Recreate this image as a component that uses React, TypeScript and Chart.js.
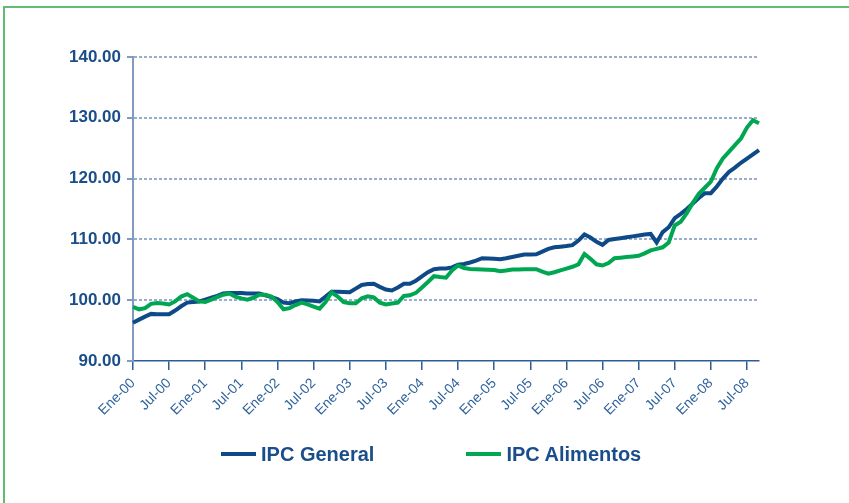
import React, { useEffect, useRef } from "react";
import { Chart, registerables } from "chart.js";

Chart.register(...registerables);

// ---- Data ----
const MONTHS = ["Ene", "Feb", "Mar", "Abr", "May", "Jun", "Jul", "Ago", "Sep", "Oct", "Nov", "Dic"];
const YEARS = ["00", "01", "02", "03", "04", "05", "06", "07", "08"];
const LAST_YEAR_MONTHS = 9; // 2008 data runs Ene..Sep

const labels: string[] = [];
YEARS.forEach((yy, yi) => {
  const n = yi === YEARS.length - 1 ? LAST_YEAR_MONTHS : 12;
  for (let m = 0; m < n; m++) labels.push(`${MONTHS[m]}-${yy}`);
});

const SERIES_NAMES = ["IPC General", "IPC Alimentos"];
const SERIES_COLORS = ["#0e4a87", "#00a651"];

const ipcGeneral = [
  96.3, 96.8, 97.3, 97.75, 97.7, 97.7, 97.7, 98.3, 99.0, 99.6, 99.7, 99.8,
  100.1, 100.4, 100.7, 101.1, 101.2, 101.2, 101.2, 101.1, 101.1, 101.1, 100.8, 100.5,
  100.2, 99.6, 99.5, 99.8, 100.0, 99.95, 99.9, 99.8, 100.6, 101.4, 101.4, 101.35,
  101.3, 101.9, 102.5, 102.65, 102.7, 102.2, 101.75, 101.6, 102.1, 102.7, 102.7, 103.2,
  103.9, 104.6, 105.1, 105.2, 105.2, 105.4, 105.85, 105.95, 106.2, 106.5, 106.9, 106.85,
  106.8, 106.75, 106.9, 107.1, 107.3, 107.5, 107.5, 107.55, 108.0, 108.45, 108.7, 108.8,
  108.9, 109.05, 109.8, 110.8, 110.3, 109.6, 109.1, 109.9, 110.05, 110.2, 110.35, 110.5,
  110.65, 110.8, 110.9, 109.5, 111.2, 112.0, 113.5, 114.2, 115.0, 115.9, 116.8, 117.6,
  117.6, 118.7, 120.0, 121.1, 121.8, 122.6, 123.3, 124.0, 124.7,
];

const ipcAlimentos = [
  98.9, 98.5, 98.7, 99.4, 99.55, 99.45, 99.3, 99.8, 100.6, 101.0, 100.4, 99.8,
  99.7, 100.1, 100.5, 100.9, 101.1, 100.6, 100.3, 100.1, 100.4, 100.9, 100.9, 100.6,
  99.7, 98.5, 98.7, 99.2, 99.6, 99.3, 98.95, 98.6, 99.7, 101.3, 100.6, 99.7,
  99.5, 99.5, 100.3, 100.65, 100.45, 99.6, 99.3, 99.45, 99.6, 100.7, 100.8, 101.2,
  102.1, 103.0, 103.95, 103.8, 103.7, 104.9, 105.7, 105.3, 105.15, 105.1, 105.05, 105.0,
  104.95, 104.75, 104.9, 105.05, 105.05, 105.1, 105.1, 105.1, 104.7, 104.35, 104.6, 104.9,
  105.2, 105.5, 105.9, 107.6, 106.8, 105.9, 105.7, 106.1, 106.9, 107.0, 107.1, 107.2,
  107.3, 107.7, 108.2, 108.45, 108.7, 109.5, 112.3, 112.9, 114.3, 116.0, 117.5, 118.5,
  119.5, 121.7, 123.3, 124.4, 125.5, 126.6, 128.4, 129.6, 129.1,
];

const SERIES_DATA = [ipcGeneral, ipcAlimentos];

const Y_MIN = 90;
const Y_MAX = 140;
const Y_STEP = 10;
const X_LABEL_EVERY = 6;

const FONT = "'Liberation Sans', Arial, Helvetica, sans-serif";
const TEXT_BLUE = "#1a4e8a";

export default function App() {
  const canvasRef = useRef<HTMLCanvasElement | null>(null);

  useEffect(() => {
    if (!canvasRef.current) return;
    const chart = new Chart(canvasRef.current, {
      type: "line",
      data: {
        labels,
        datasets: SERIES_NAMES.map((name, i) => ({
          label: name,
          data: SERIES_DATA[i],
          borderColor: SERIES_COLORS[i],
          backgroundColor: SERIES_COLORS[i],
          borderWidth: 4,
          pointRadius: 0,
          tension: 0,
          fill: false,
          order: i === 1 ? 0 : 1,
        })),
      },
      options: {
        responsive: false,
        animation: false,
        events: [],
        layout: { padding: { top: 57, right: 90, left: 0, bottom: 0 } },
        plugins: {
          legend: { display: false },
          tooltip: { enabled: false },
        },
        scales: {
          x: {
            type: "category",
            offset: false,
            border: { display: true, color: "#2b5c93", width: 1.5 },
            grid: {
              display: true,
              drawOnChartArea: false,
              drawTicks: true,
              tickLength: 9,
              lineWidth: 1.5,
              color: (ctx: any) => (ctx.index % X_LABEL_EVERY === 0 ? "#2b5c93" : "rgba(0,0,0,0)"),
              tickColor: (ctx: any) => (ctx.index % X_LABEL_EVERY === 0 ? "#2b5c93" : "rgba(0,0,0,0)"),
            },
            ticks: {
              autoSkip: false,
              maxRotation: 45,
              minRotation: 45,
              padding: 5,
              color: "#2f639c",
              font: { family: FONT, size: 14 },
              callback: (_v: any, i: number) => (i % X_LABEL_EVERY === 0 ? labels[i] : ""),
            },
            afterFit: (s: any) => {
              s.height = 142;
            },
          },
          y: {
            min: Y_MIN,
            max: Y_MAX,
            border: { display: true, color: "#7f9cc0", width: 2, dash: [3, 2] },
            grid: {
              drawOnChartArea: true,
              drawTicks: true,
              tickLength: 6,
              lineWidth: 2,
              color: (ctx: any) => (ctx.tick && ctx.tick.value === Y_MIN ? "rgba(0,0,0,0)" : "#97afcc"),
              tickColor: "#7f9cc0",
              tickBorderDash: [],
            },
            ticks: {
              stepSize: Y_STEP,
              padding: 6,
              color: TEXT_BLUE,
              font: { family: FONT, size: 17, weight: "bold" },
              callback: (v: any) => Number(v).toFixed(2),
            },
            afterFit: (s: any) => {
              s.width = 133;
            },
          },
        },
      } as any,
    });
    return () => chart.destroy();
  }, []);

  return (
    <div
      style={{
        position: "fixed",
        left: 0,
        top: 0,
        width: 849,
        height: 503,
        background: "#ffffff",
        overflow: "hidden",
      }}
    >
      <div
        style={{
          position: "absolute",
          left: 3,
          top: 6,
          width: 880,
          height: 540,
          border: "2px solid #62bd70",
          boxSizing: "border-box",
        }}
      />
      <canvas
        ref={canvasRef}
        width={849}
        height={503}
        style={{ position: "absolute", left: 0, top: 0, width: 849, height: 503 }}
      />
      <div
        style={{
          position: "absolute",
          left: 221,
          top: 444,
          display: "flex",
          alignItems: "center",
          gap: 92,
        }}
      >
        {SERIES_NAMES.map((name, i) => (
          <div key={name} style={{ display: "flex", alignItems: "center", height: 20 }}>
            <span
              style={{
                display: "inline-block",
                width: 35,
                height: 4,
                background: SERIES_COLORS[i],
                marginRight: 5,
              }}
            />
            <span
              style={{
                fontFamily: FONT,
                fontWeight: "bold",
                fontSize: 20,
                lineHeight: "20px",
                color: TEXT_BLUE,
                whiteSpace: "nowrap",
              }}
            >
              {name}
            </span>
          </div>
        ))}
      </div>
    </div>
  );
}
